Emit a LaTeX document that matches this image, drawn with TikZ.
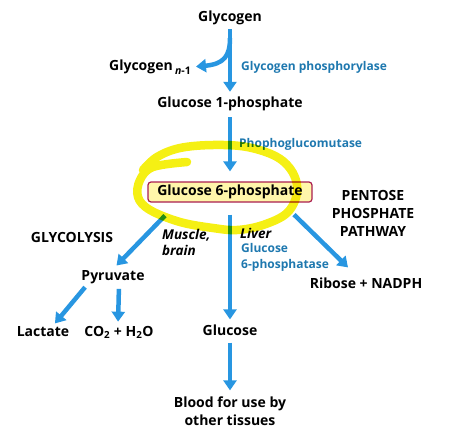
\documentclass[tikz,border=0pt]{standalone}
\usepackage{fontspec}
\setmainfont{Open Sans}
\usetikzlibrary{arrows.meta,positioning}
\definecolor{pathblue}{RGB}{40,150,225}
\definecolor{enzblue}{RGB}{30,120,175}
\definecolor{boxred}{RGB}{170,30,80}
\definecolor{boxfill}{RGB}{255,246,170}
\definecolor{hilite}{RGB}{245,240,20}
\tikzset{
    met/.style={font=\fontsize{14}{18}\selectfont\bfseries, align=center, inner sep=1pt},
    enz/.style={font=\fontsize{12}{16}\selectfont\bfseries, text=enzblue, align=left, inner sep=1pt},
    tis/.style={font=\fontsize{13.5}{16}\selectfont\bfseries\itshape, align=left, inner sep=1pt},
    arr/.style={-{Triangle[width=13pt,length=10pt]}, line width=4.5pt, draw=pathblue},
}

\begin{document}
\begin{tikzpicture}[x=1pt, y=-1pt]
    \useasboundingbox (0,0) rectangle (474,434);

    % metabolites
    \node[met] (gly) at (230,18) {Glycogen};
    \node[met, anchor=east] (gn1) at (192,67) {Glycogen\,\raisebox{-0.45ex}{\fontsize{10.5}{12}\selectfont\textit{n}-1}};
    \node[met] (g1p) at (230,104) {Glucose 1-phosphate};
    \node[met, draw=boxred, fill=boxfill, rounded corners=3pt, line width=1.2pt,
          minimum width=164pt, minimum height=20pt, inner sep=0pt] (g6p) at (230,192) {Glucose 6-phosphate};
    \node[met] (pyr) at (113,277) {Pyruvate};
    \node[met] (rib) at (366,283) {Ribose + NADPH};
    \node[met] (glc) at (230,330) {Glucose};
    \node[met] (lac) at (43,332) {Lactate};
    \node[met] (co2) at (119,332) {CO\textsubscript{2} + H\textsubscript{2}O};
    \node[met] (blood) at (230,411) {Blood for use by\\other tissues};

    % pathway names, enzymes, tissues
    \node[met] (ppp) at (373,213) {PENTOSE\\PHOSPHATE\\PATHWAY};
    \node[met] (glyc) at (72,237) {GLYCOLYSIS};
    \node[enz, anchor=west] (gp) at (240,67) {Glycogen phosphorylase};
    \node[enz, anchor=west] (pgm) at (238,144) {Phophoglucomutase};
    \node[tis, anchor=north west] (mb) at (161,228) {Muscle,\\brain};
    \node[tis, anchor=west] (liv) at (239,233) {Liver};
    \node[enz, anchor=north west] (g6pase) at (240,242) {Glucose\\6-phosphatase};

    % arrows
    \coordinate (br) at (230,38);
    \draw[arr, shorten <=3pt, shorten >=4pt] (gly.south) -- (g1p.north);
    \draw[arr, shorten >=4pt] (br) .. controls (230,56) and (224,64) .. (gn1.east);
    \draw[arr, shorten <=5pt, shorten >=10pt] (g1p.south) -- (g6p.north);
    \draw[arr, shorten <=12pt, shorten >=4pt] (g6p.south) -- (glc.north);
    \draw[arr, shorten <=6pt, shorten >=5pt] (glc.south) -- (blood.north);
    \draw[arr, shorten >=5pt] ([xshift=-65pt, yshift=-13pt]g6p.south) -- (pyr.north);
    \draw[arr] ([xshift=64pt, yshift=-12pt]g6p.south) -- ([xshift=-18pt, yshift=9pt]rib.north);
    \draw[arr, shorten <=3pt, shorten >=3pt] ([xshift=-26pt]pyr.south) -- ([xshift=10pt]lac.north);
    \draw[arr, shorten <=4pt, shorten >=3pt] ([xshift=6pt]pyr.south) -- ([xshift=-1pt]co2.north);

    % highlight round glucose 6-phosphate
    \draw[hilite, line width=8.5pt, line cap=round, blend mode=multiply]
        plot[smooth, tension=0.6] coordinates {(187,162) (153,167) (140,180) (138,197)
        (150,210) (180,222) (213,228) (237,230) (263,225) (287,213) (297,193)
        (293,173) (277,157) (247,147) (213,145) (180,148) (157,157) (143,170)};
\end{tikzpicture}
\end{document}
